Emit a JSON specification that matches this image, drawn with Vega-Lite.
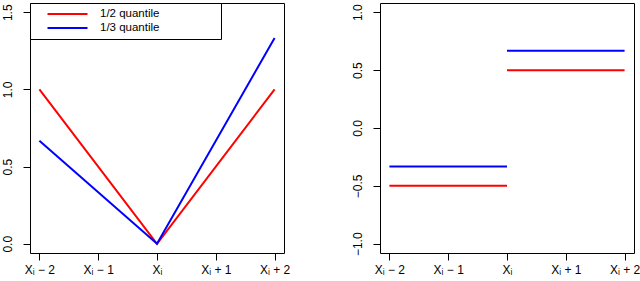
{
  "$schema": "https://vega.github.io/schema/vega-lite/v6.json",
  "padding": {"top": 2, "left": 0, "right": 0, "bottom": 0},
  "background": "white",
  "spacing": 59,
  "config": {
    "font": "Liberation Sans",
    "view": {"stroke": "black", "strokeWidth": 1},
    "axis": {
      "grid": false,
      "domain": false,
      "tickColor": "black",
      "tickSize": 7,
      "labelColor": "black",
      "labelFontSize": 12,
      "labelFont": "Liberation Sans",
      "title": null
    },
    "axisY": {"labelAngle": -90, "labelAlign": "center", "labelBaseline": "bottom", "labelPadding": 8.5, "minExtent": 29, "maxExtent": 29},
    "axisX": {"labelPadding": 4, "labelBaseline": "top"}
  },
  "datasets": {
    "loss": [
      {"q": "1/2 quantile", "x": -2, "y": 1},
      {"q": "1/2 quantile", "x": 0, "y": 0},
      {"q": "1/2 quantile", "x": 2, "y": 1},
      {"q": "1/3 quantile", "x": -2, "y": 0.6667},
      {"q": "1/3 quantile", "x": 0, "y": 0},
      {"q": "1/3 quantile", "x": 2, "y": 1.3333}
    ],
    "deriv": [
      {"q": "1/2 quantile", "seg": "L", "x": -2, "y": -0.5},
      {"q": "1/2 quantile", "seg": "L", "x": 0, "y": -0.5},
      {"q": "1/2 quantile", "seg": "R", "x": 0, "y": 0.5},
      {"q": "1/2 quantile", "seg": "R", "x": 2, "y": 0.5},
      {"q": "1/3 quantile", "seg": "L", "x": -2, "y": -0.3333},
      {"q": "1/3 quantile", "seg": "L", "x": 0, "y": -0.3333},
      {"q": "1/3 quantile", "seg": "R", "x": 0, "y": 0.6667},
      {"q": "1/3 quantile", "seg": "R", "x": 2, "y": 0.6667}
    ]
  },
  "resolve": {"scale": {"color": "independent"}, "legend": {"color": "independent"}},
  "hconcat": [
    {
      "width": 254,
      "height": 250,
      "data": {"name": "loss"},
      "mark": {"type": "line", "strokeWidth": 2},
      "encoding": {
        "x": {
          "field": "x", "type": "quantitative",
          "scale": {"domain": [-2.16, 2.16], "nice": false, "zero": false},
          "axis": {"values": [-2, -1, 0, 1, 2],
            "labelExpr": "datum.value == -2 ? 'Xᵢ − 2' : datum.value == -1 ? 'Xᵢ − 1' : datum.value == 0 ? 'Xᵢ' : datum.value == 1 ? 'Xᵢ + 1' : 'Xᵢ + 2'"}
        },
        "y": {
          "field": "y", "type": "quantitative",
          "scale": {"domain": [-0.06, 1.56], "nice": false, "zero": false},
          "axis": {"values": [0, 0.5, 1, 1.5], "format": ".1f"}
        },
        "color": {
          "field": "q", "type": "nominal",
          "scale": {"domain": ["1/2 quantile", "1/3 quantile"], "range": ["#FF0000", "#0000FF"]},
          "legend": {
            "title": "\u2003",
            "titleOrient": "right",
            "titlePadding": 57,
            "titleFontSize": 11,
            "orient": "top-left",
            "offset": 0,
            "fillColor": "white",
            "strokeColor": "black",
            "padding": 5,
            "symbolType": "M-4,0H4",
            "symbolStrokeWidth": 2,
            "symbolSize": 100,
            "symbolOffset": 26.5,
            "labelOffset": 26.5,
            "labelFontSize": 11.5,
            "labelColor": "black",
            "rowPadding": 2
          }
        }
      }
    },
    {
      "width": 254,
      "height": 250,
      "data": {"name": "deriv"},
      "mark": {"type": "line", "strokeWidth": 2},
      "encoding": {
        "x": {
          "field": "x", "type": "quantitative",
          "scale": {"domain": [-2.16, 2.16], "nice": false, "zero": false},
          "axis": {"values": [-2, -1, 0, 1, 2],
            "labelExpr": "datum.value == -2 ? 'Xᵢ − 2' : datum.value == -1 ? 'Xᵢ − 1' : datum.value == 0 ? 'Xᵢ' : datum.value == 1 ? 'Xᵢ + 1' : 'Xᵢ + 2'"}
        },
        "y": {
          "field": "y", "type": "quantitative",
          "scale": {"domain": [-1.08, 1.08], "nice": false, "zero": false},
          "axis": {"values": [-1, -0.5, 0, 0.5, 1], "format": ".1f"}
        },
        "detail": {"field": "seg", "type": "nominal"},
        "color": {
          "field": "q", "type": "nominal",
          "scale": {"domain": ["1/2 quantile", "1/3 quantile"], "range": ["#FF0000", "#0000FF"]},
          "legend": null
        }
      }
    }
  ]
}
